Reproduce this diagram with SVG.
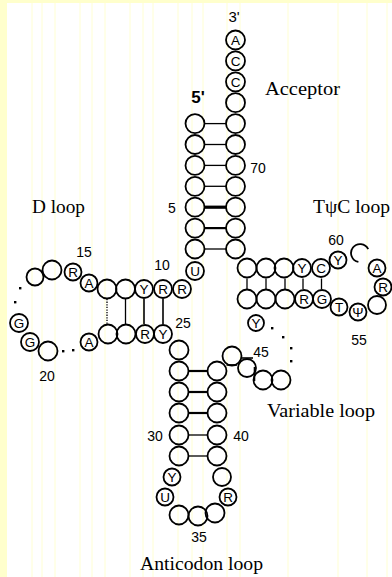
<svg xmlns="http://www.w3.org/2000/svg" width="392" height="577" viewBox="0 0 392 577">
<style>
.n circle{fill:none;stroke:#000;stroke-width:1.8}
.n text{font-family:"Liberation Sans",Arial,sans-serif;font-size:13.5px;text-anchor:middle;fill:#000}
.num{font-family:"Liberation Sans",Arial,sans-serif;font-size:14px;text-anchor:middle;fill:#000}
.lbl{font-family:"Liberation Serif","Times New Roman",serif;font-size:19px;fill:#000}
.bp{stroke:#000;stroke-width:1.3;fill:none}
.dot{fill:#000}
.bg line{stroke:#FFFFD2;stroke-width:1}
</style>
<g id="background">
<rect x="0" y="0" width="392" height="577" fill="#ffffff"/>
<rect x="0" y="0" width="7" height="577" fill="#FFFFCC"/>
<rect x="0" y="0" width="392" height="3" fill="#FFFFCC"/>
<g class="bg">
<line x1="32" y1="3" x2="32" y2="577"/><line x1="42" y1="3" x2="42" y2="577"/><line x1="55" y1="3" x2="55" y2="577"/>
<line x1="80" y1="3" x2="80" y2="577"/><line x1="92" y1="3" x2="92" y2="577"/><line x1="105" y1="3" x2="105" y2="577"/>
<line x1="130" y1="3" x2="130" y2="577"/><line x1="143" y1="3" x2="143" y2="577"/><line x1="153" y1="3" x2="153" y2="577"/>
<line x1="178" y1="3" x2="178" y2="577"/><line x1="192" y1="3" x2="192" y2="577"/><line x1="203" y1="3" x2="203" y2="577"/>
<line x1="227" y1="3" x2="227" y2="577"/><line x1="240" y1="3" x2="240" y2="577"/><line x1="288" y1="3" x2="288" y2="577"/>
<line x1="338" y1="3" x2="338" y2="577"/><line x1="367" y1="3" x2="367" y2="577"/><line x1="387" y1="3" x2="387" y2="577"/>
</g>
</g>

<g id="connectors">
<line class="bp" x1="204.5" y1="123.6" x2="226" y2="123.6"/>
<line class="bp" x1="204.5" y1="144.5" x2="226" y2="144.5"/>
<line class="bp" x1="204.5" y1="165.4" x2="226" y2="165.4"/>
<line class="bp" x1="204.5" y1="186.3" x2="226" y2="186.3"/>
<line class="bp" x1="204.5" y1="207.2" x2="226" y2="207.2" style="stroke-width:3.2"/>
<line class="bp" x1="204.5" y1="228.1" x2="226" y2="228.1" style="stroke-width:2.2"/>
<line class="bp" x1="204.5" y1="249" x2="226" y2="249"/>
<line class="bp" x1="107" y1="299" x2="107" y2="324" stroke-dasharray="1.3 1.3"/>
<line class="bp" x1="125.5" y1="299" x2="125.5" y2="324"/>
<line class="bp" x1="144" y1="299" x2="144" y2="324" style="stroke-width:1.6"/>
<line class="bp" x1="163" y1="299" x2="163" y2="324" style="stroke-width:1.6"/>
<line class="bp" x1="188.5" y1="371" x2="207.5" y2="371" style="stroke-width:2.2"/>
<line class="bp" x1="188.5" y1="392" x2="207.5" y2="392" style="stroke-width:2.2"/>
<line class="bp" x1="188.5" y1="413" x2="207.5" y2="413" style="stroke-width:2.2"/>
<line class="bp" x1="188.5" y1="435" x2="207.5" y2="435"/>
<line class="bp" x1="188.5" y1="456" x2="207.5" y2="456"/>
<line class="bp" x1="247" y1="278.5" x2="247" y2="289"/>
<line class="bp" x1="266" y1="278.5" x2="266" y2="289"/>
<line class="bp" x1="285" y1="278.5" x2="285" y2="289"/>
<line class="bp" x1="303" y1="278.5" x2="303" y2="289"/>
<line class="bp" x1="321.5" y1="278.5" x2="321.5" y2="289"/>
<line class="bp" x1="226.5" y1="365" x2="237" y2="365" style="stroke-width:1.6"/>
<line class="bp" x1="241.5" y1="358" x2="253" y2="358" style="stroke-width:1.6"/>
<line class="bp" x1="254.5" y1="367" x2="254.5" y2="381" style="stroke-width:1.6"/>
<rect class="dot" x="19" y="287" width="2.4" height="2.4"/>
<rect class="dot" x="14" y="301" width="2.4" height="2.4"/>
<rect class="dot" x="62" y="350" width="2.4" height="2.4"/>
<rect class="dot" x="72" y="349" width="2.4" height="2.4"/>
<rect class="dot" x="271" y="327" width="2.4" height="2.4"/>
<rect class="dot" x="282" y="336" width="2.4" height="2.4"/>
<rect class="dot" x="290" y="347" width="2.4" height="2.4"/>
<rect class="dot" x="290" y="360" width="2.4" height="2.4"/>
</g>

<g id="acceptor">
<g id="n76" class="n"><circle cx="235.5" cy="40" r="9.5"/><text x="235.5" y="44.8">A</text></g>
<g id="n75" class="n"><circle cx="235.5" cy="60.9" r="9.5"/><text x="235.5" y="65.7">C</text></g>
<g id="n74" class="n"><circle cx="235.5" cy="81.8" r="9.5"/><text x="235.5" y="86.6">C</text></g>
<g id="n73" class="n"><circle cx="235.5" cy="102.7" r="9.5"/></g>
<g id="n72" class="n"><circle cx="235.5" cy="123.6" r="9.5"/></g>
<g id="n71" class="n"><circle cx="235.5" cy="144.5" r="9.5"/></g>
<g id="n70" class="n"><circle cx="235.5" cy="165.4" r="9.5"/></g>
<g id="n69" class="n"><circle cx="235.5" cy="186.3" r="9.5"/></g>
<g id="n68" class="n"><circle cx="235.5" cy="207.2" r="9.5"/></g>
<g id="n67" class="n"><circle cx="235.5" cy="228.1" r="9.5"/></g>
<g id="n66" class="n"><circle cx="235.5" cy="249" r="9.5"/></g>
<g id="n1" class="n"><circle cx="195" cy="123.6" r="9.5"/></g>
<g id="n2" class="n"><circle cx="195" cy="144.5" r="9.5"/></g>
<g id="n3" class="n"><circle cx="195" cy="165.4" r="9.5"/></g>
<g id="n4" class="n"><circle cx="195" cy="186.3" r="9.5"/></g>
<g id="n5" class="n"><circle cx="195" cy="207.2" r="9.5"/></g>
<g id="n6" class="n"><circle cx="195" cy="228.1" r="9.5"/></g>
<g id="n7" class="n"><circle cx="195" cy="249" r="9.5"/></g>
<g id="n8" class="n"><circle cx="195" cy="271" r="9"/><text x="195" y="275.8">U</text></g>
</g>

<g id="darm">
<g id="n9" class="n"><circle cx="182" cy="289" r="9"/><text x="182" y="293.8">R</text></g>
<g id="n10" class="n"><circle cx="163" cy="289" r="9"/><text x="163" y="293.8">R</text></g>
<g id="n11" class="n"><circle cx="144" cy="289" r="9"/><text x="144" y="293.8">Y</text></g>
<g id="n12" class="n"><circle cx="125.5" cy="289" r="9.5"/></g>
<g id="n13" class="n"><circle cx="107" cy="289" r="9.5"/></g>
<g id="n14" class="n"><circle cx="89" cy="283" r="8.5"/><text x="89" y="287.8">A</text></g>
<g id="n15" class="n"><circle cx="73" cy="272" r="8.5"/><text x="73" y="276.8">R</text></g>
<g id="n16" class="n"><circle cx="52" cy="270" r="9.5"/></g>
<g id="n17" class="n"><circle cx="35" cy="277" r="8.5"/></g>
<g id="n18" class="n"><circle cx="19" cy="323" r="9"/><text x="19" y="327.8">G</text></g>
<g id="n19" class="n"><circle cx="30" cy="342" r="9"/><text x="30" y="346.8">G</text></g>
<g id="n20" class="n"><circle cx="48" cy="351" r="9.5"/></g>
<g id="n21" class="n"><circle cx="89" cy="342" r="8.5"/><text x="89" y="346.8">A</text></g>
<g id="n22" class="n"><circle cx="108" cy="334" r="9.5"/></g>
<g id="n23" class="n"><circle cx="126" cy="334" r="9.5"/></g>
<g id="n24" class="n"><circle cx="145" cy="334" r="9"/><text x="145" y="338.8">R</text></g>
<g id="n25" class="n"><circle cx="163" cy="334" r="9"/><text x="163" y="338.8">Y</text></g>
</g>

<g id="anticodon">
<g id="n26" class="n"><circle cx="179" cy="350" r="9.5"/></g>
<g id="n27" class="n"><circle cx="179" cy="371" r="9.5"/></g>
<g id="n28" class="n"><circle cx="179" cy="392" r="9.5"/></g>
<g id="n29" class="n"><circle cx="179" cy="413" r="9.5"/></g>
<g id="n30" class="n"><circle cx="179" cy="435" r="9.5"/></g>
<g id="n31" class="n"><circle cx="179" cy="456" r="9.5"/></g>
<g id="n32" class="n"><circle cx="172" cy="477" r="8.5"/><text x="172" y="481.8">Y</text></g>
<g id="n33" class="n"><circle cx="165" cy="497" r="8.5"/><text x="165" y="501.8">U</text></g>
<g id="n34" class="n"><circle cx="179" cy="515" r="9.5"/></g>
<g id="n35" class="n"><circle cx="198" cy="516" r="9.5"/></g>
<g id="n36" class="n"><circle cx="215" cy="513" r="9.5"/></g>
<g id="n37" class="n"><circle cx="228" cy="497" r="8.5"/><text x="228" y="501.8">R</text></g>
<g id="n38" class="n"><circle cx="222" cy="477" r="9"/></g>
<g id="n39" class="n"><circle cx="217" cy="456" r="9.5"/></g>
<g id="n40" class="n"><circle cx="217" cy="435" r="9.5"/></g>
<g id="n41" class="n"><circle cx="217" cy="413" r="9.5"/></g>
<g id="n42" class="n"><circle cx="217" cy="392" r="9.5"/></g>
<g id="n43" class="n"><circle cx="217" cy="371" r="9.5"/></g>
</g>

<g id="variable">
<g id="n44" class="n"><circle cx="232" cy="356" r="9.5"/></g>
<g id="n45" class="n"><circle cx="247" cy="368" r="9"/></g>
<g id="n46" class="n"><circle cx="263" cy="380" r="9.5"/></g>
<g id="n47" class="n"><circle cx="281" cy="380" r="9.5"/></g>
<g id="n48" class="n"><circle cx="256" cy="323" r="8"/><text x="256" y="327.8">Y</text></g>
</g>

<g id="tarm">
<g id="n49" class="n"><circle cx="247" cy="299" r="9.5"/></g>
<g id="n50" class="n"><circle cx="266" cy="299" r="9.5"/></g>
<g id="n51" class="n"><circle cx="285" cy="299" r="9.5"/></g>
<g id="n52" class="n"><circle cx="304" cy="299" r="9"/><text x="304" y="303.8">R</text></g>
<g id="n53" class="n"><circle cx="322" cy="299" r="9"/><text x="322" y="303.8">G</text></g>
<g id="n54" class="n"><circle cx="339" cy="307" r="8.5"/><text x="339" y="311.8">T</text></g>
<g id="n55" class="n"><circle cx="358" cy="312" r="8.5"/><text x="358" y="316.8">Ψ</text></g>
<g id="n56" class="n"><circle cx="377" cy="305" r="9"/></g>
<g id="n57" class="n"><circle cx="383" cy="287" r="8.5"/><text x="383" y="291.8">R</text></g>
<g id="n58" class="n"><circle cx="377" cy="268" r="8.5"/><text x="377" y="272.8">A</text></g>
<g id="n59" class="n"><path d="M 358.4 261.9 A 9 9 0 1 1 368.2 249.2" fill="none" stroke="#000" stroke-width="1.8"/></g>
<g id="n60" class="n"><circle cx="338" cy="260" r="8.5"/><text x="338" y="264.8">Y</text></g>
<g id="n61" class="n"><circle cx="321" cy="268" r="9"/><text x="321" y="272.8">C</text></g>
<g id="n62" class="n"><circle cx="302" cy="268" r="9"/><text x="302" y="272.8">Y</text></g>
<g id="n63" class="n"><circle cx="284" cy="268" r="9.5"/></g>
<g id="n64" class="n"><circle cx="266" cy="268" r="9.5"/></g>
<g id="n65" class="n"><circle cx="247" cy="268" r="9.5"/></g>
</g>

<g id="labels">
<text class="num" x="234" y="22" style="font-size:15px">3'</text>
<text class="num" x="198" y="103" style="font-size:17px;font-weight:bold">5'</text>
<text class="num" x="258" y="173">70</text>
<text class="num" x="172" y="213">5</text>
<text class="num" x="162" y="270">10</text>
<text class="num" x="84" y="257">15</text>
<text class="num" x="47" y="381">20</text>
<text class="num" x="183" y="328">25</text>
<text class="num" x="155" y="441">30</text>
<text class="num" x="241" y="441">40</text>
<text class="num" x="199" y="542">35</text>
<text class="num" x="261" y="357">45</text>
<text class="num" x="359" y="345">55</text>
<text class="num" x="336" y="245">60</text>
<text class="lbl" x="265" y="95" textLength="75" lengthAdjust="spacingAndGlyphs">Acceptor</text>
<text class="lbl" x="32" y="213" textLength="53" lengthAdjust="spacingAndGlyphs">D loop</text>
<text class="lbl" x="313" y="213" textLength="77" lengthAdjust="spacingAndGlyphs">TψC loop</text>
<text class="lbl" x="267" y="417" textLength="108" lengthAdjust="spacingAndGlyphs">Variable loop</text>
<text class="lbl" x="140" y="570" textLength="123" lengthAdjust="spacingAndGlyphs">Anticodon loop</text>
</g>
</svg>
